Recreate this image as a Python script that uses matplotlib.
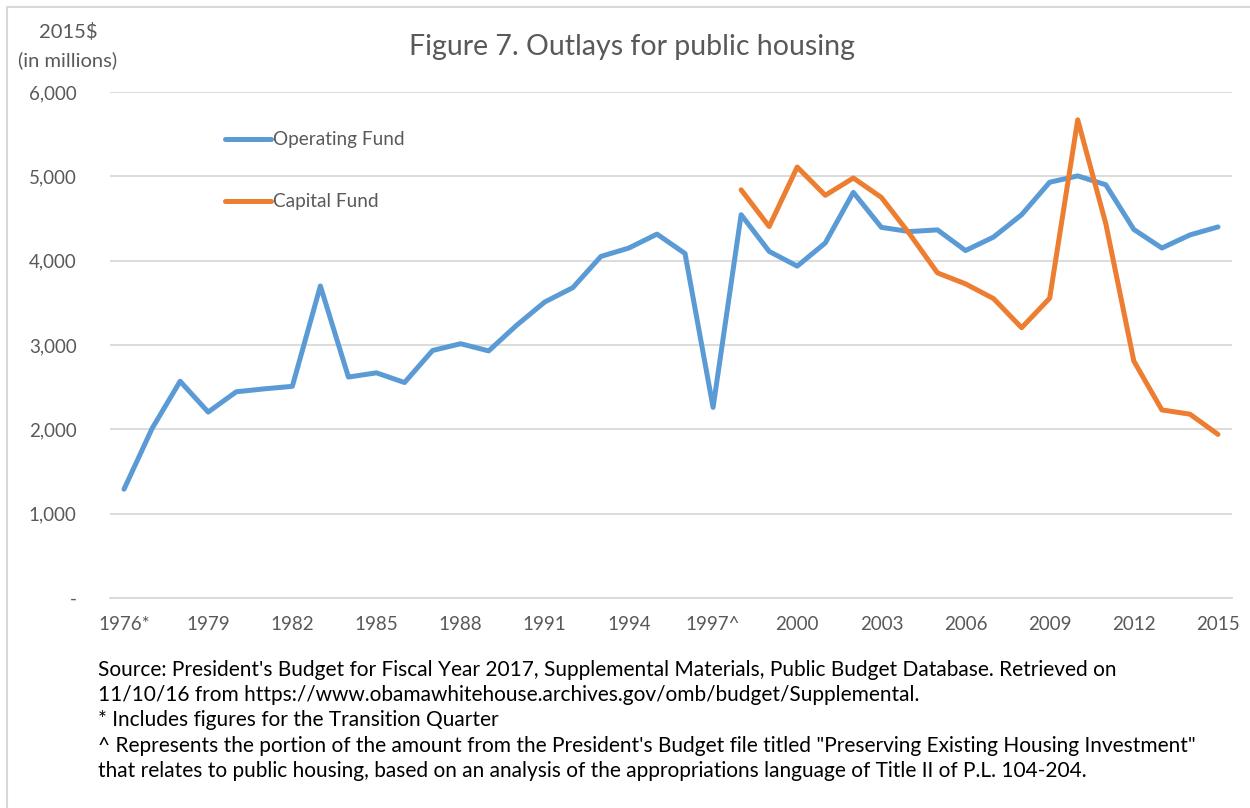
import matplotlib
matplotlib.use("Agg")
import matplotlib.pyplot as plt
from matplotlib.patches import Rectangle
import numpy as np

# ---------------- data ----------------
categories = ["1976*"] + [str(y) for y in range(1977, 1997)] + ["1997^"] + [str(y) for y in range(1998, 2016)]
tick_labels = ["1976*", "1979", "1982", "1985", "1988", "1991", "1994", "1997^",
               "2000", "2003", "2006", "2009", "2012", "2015"]

operating_fund = [1290, 2010, 2570, 2205, 2445, 2480, 2510, 3700, 2620, 2670,
                  2555, 2935, 3015, 2930, 3235, 3510, 3680, 4050, 4150, 4315,
                  4085, 2260, 4545, 4110, 3935, 4210, 4810, 4395, 4345, 4365,
                  4120, 4280, 4545, 4930, 5005, 4900, 4370, 4150, 4305, 4400]

capital_years = [str(y) for y in range(1998, 2016)]
capital_fund = [4840, 4405, 5110, 4775, 4980, 4750, 4320, 3855, 3725, 3550,
                3205, 3555, 5670, 4440, 2810, 2230, 2180, 1940]

yticks = [0, 1000, 2000, 3000, 4000, 5000, 6000]
ytick_labels = ["-", "1,000", "2,000", "3,000", "4,000", "5,000", "6,000"]

# ---------------- style ----------------
plt.rcParams['font.family'] = ['Lato', 'DejaVu Sans']
BLUE = "#5B9BD5"
ORANGE = "#ED7D31"
GREY_TXT = "#595959"
GRID = "#D9D9D9"

W, H = 1250, 808
fig = plt.figure(figsize=(W / 100, H / 100), dpi=100)
ax = fig.add_axes([110 / W, 1 - 598 / H, (1232 - 110) / W, (598 - 92) / H])

x_op = np.arange(len(categories))
x_cap = [categories.index(y) for y in capital_years]

ax.plot(x_op, operating_fund, color=BLUE, lw=3.6, solid_joinstyle="round",
        solid_capstyle="round", label="Operating Fund", zorder=3)
ax.plot(x_cap, capital_fund, color=ORANGE, lw=3.6, solid_joinstyle="round",
        solid_capstyle="round", label="Capital Fund", zorder=4)

ax.set_xlim(-0.5, len(categories) - 0.5)
ax.set_ylim(0, 6000)
ax.set_yticks(yticks)
ax.set_yticklabels(ytick_labels)
tick_pos = [categories.index(t) for t in tick_labels]
ax.set_xticks(tick_pos)
ax.set_xticklabels(tick_labels)

ax.grid(axis="y", color=GRID, lw=1.3)
ax.set_axisbelow(True)
for s in ["top", "right", "left"]:
    ax.spines[s].set_visible(False)
ax.spines["bottom"].set_color(GRID)
ax.spines["bottom"].set_linewidth(1.3)
ax.tick_params(axis="both", length=0, labelsize=13.5, labelcolor=GREY_TXT)
ax.tick_params(axis="y", pad=24)
ax.tick_params(axis="x", pad=13)

leg = ax.legend(loc="upper left", bbox_to_anchor=(0.0955, 0.937), frameon=False,
                fontsize=13.7, handlelength=2.45, handletextpad=0.1,
                labelspacing=2.35, borderaxespad=0)
for t in leg.get_texts():
    t.set_color(GREY_TXT)

# title and axis unit label
fig.text(632 / W, 1 - 47 / H, "Figure 7. Outlays for public housing", ha="center",
         va="center", fontsize=20.5, color=GREY_TXT)
fig.text(68 / W, 1 - 32 / H, "2015$", ha="center", va="center", fontsize=14.5, color=GREY_TXT)
fig.text(68 / W, 1 - 60 / H, "(in millions)", ha="center", va="center", fontsize=14.5, color=GREY_TXT)

# footnotes
notes = [
    "Source: President's Budget for Fiscal Year 2017, Supplemental Materials, Public Budget Database. Retrieved on",
    "11/10/16 from https://www.obamawhitehouse.archives.gov/omb/budget/Supplemental.",
    "* Includes figures for the Transition Quarter",
    "^ Represents the portion of the amount from the President's Budget file titled \"Preserving Existing Housing Investment\"",
    "that relates to public housing, based on an analysis of the appropriations language of Title II of P.L. 104-204.",
]
note_y = [670, 695, 720, 746, 771]
for txt, yy in zip(notes, note_y):
    fig.text(98 / W, 1 - yy / H, txt, ha="left", va="center", fontsize=15, color="#000000")

# outer frame
fig.patches.append(Rectangle((7 / W, -0.1), 1.2, 1 - 7 / H + 0.1, transform=fig.transFigure,
                             fill=False, edgecolor=GRID, lw=1.5, zorder=0))

fig.savefig("out.png", dpi=100)
